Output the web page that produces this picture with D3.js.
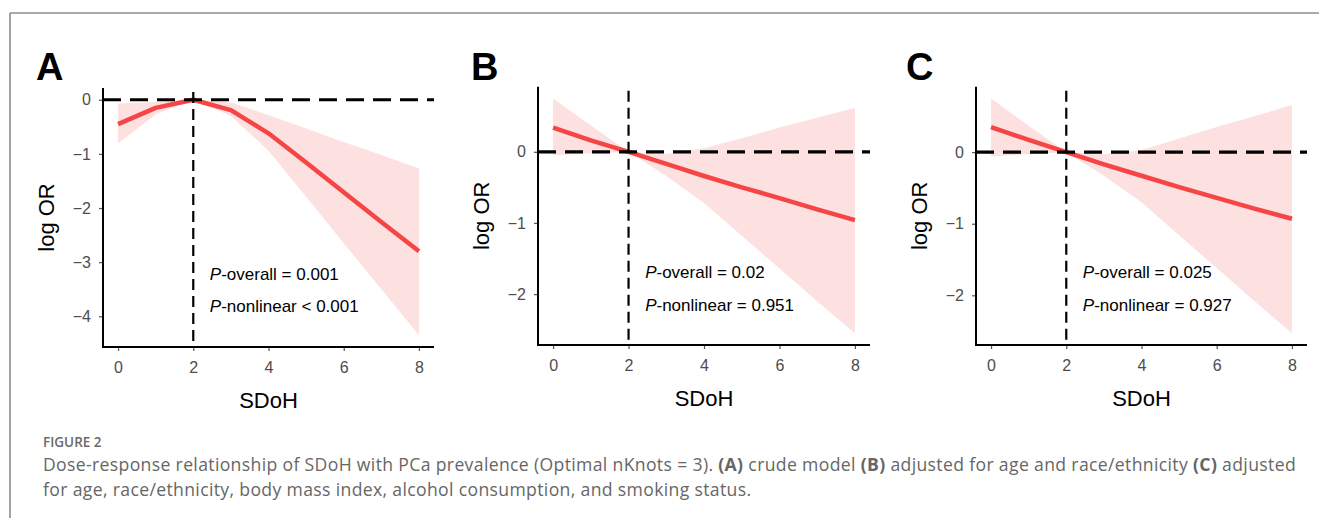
<!DOCTYPE html>
<html>
<head>
<meta charset="utf-8">
<script src="https://cdn.jsdelivr.net/npm/d3@7"></script>
<style>
  html, body { margin: 0; padding: 0; background: #fff; }
  svg { display: block; }
</style>
</head>
<body>
<svg id="chart" width="1319" height="518"></svg>
<script>
// ---------------- DATA ----------------
const sdoh = [0, 1, 2, 3, 4, 5, 6, 7, 8];

const fitA   = [-0.45, -0.15, 0, -0.19, -0.62, -1.16, -1.71, -2.26, -2.80];
const upperA = [-0.07, -0.04, 0, -0.05, -0.28, -0.53, -0.78, -1.02, -1.27];
const lowerA = [-0.81, -0.27, 0, -0.30, -0.94, -1.79, -2.65, -3.50, -4.35];

const fitB   = [0.34, 0.16, 0, -0.17, -0.34, -0.50, -0.65, -0.81, -0.96];
const upperB = [0.75, 0.37, 0, -0.03, 0.05, 0.19, 0.34, 0.48, 0.62];
const lowerB = [-0.05, -0.02, 0, -0.34, -0.72, -1.18, -1.64, -2.10, -2.55];

const fitC   = [0.35, 0.17, 0, -0.17, -0.33, -0.49, -0.64, -0.79, -0.93];
const upperC = [0.75, 0.37, 0, -0.03, 0.03, 0.19, 0.35, 0.50, 0.66];
const lowerC = [-0.06, -0.03, 0, -0.33, -0.70, -1.16, -1.62, -2.08, -2.53];

const xTicks  = [0, 2, 4, 6, 8];
const yTicksA = [0, -1, -2, -3, -4];
const yTicksB = [0, -1, -2];
const yTicksC = [0, -1, -2];

const panelLetters = ["A", "B", "C"];
const pOverall   = ["0.001", "0.02", "0.025"];
const pNonlinear = ["< 0.001", "= 0.951", "= 0.927"];

const refX = 2;   // reference SDoH value (vertical dashed line)
const refY = 0;   // log OR = 0 (horizontal dashed line)
const annotX = 2.44;

const xLabel = "SDoH";
const yLabel = "log OR";

const figureTitle = "FIGURE 2";
const captionLine1 = [
  ["Dose-response relationship of SDoH with PCa prevalence (Optimal nKnots = 3). ", false],
  ["(A)", true], [" crude model ", false],
  ["(B)", true], [" adjusted for age and race/ethnicity ", false],
  ["(C)", true], [" adjusted", false]
];
const captionLine2 = "for age, race/ethnicity, body mass index, alcohol consumption, and smoking status.";

// ---------------- LAYOUT ----------------
const svg = d3.select("#chart");
const FONT = "'Liberation Sans', Arial, Helvetica, sans-serif";
const LINE_COLOR = "#f64545";
const RIBBON_COLOR = "#fde1e1";

// frame (top + left border)
svg.append("line").attr("x1", 10).attr("y1", 13).attr("x2", 1319).attr("y2", 13)
  .attr("stroke", "#8c8c8c").attr("stroke-width", 1.6);
svg.append("line").attr("x1", 10).attr("y1", 13).attr("x2", 10).attr("y2", 518)
  .attr("stroke", "#8c8c8c").attr("stroke-width", 1.6);

const panels = [
  { fit: fitA, upper: upperA, lower: lowerA, yTicks: yTicksA, box: { l: 103, t: 88,   r: 434,  b: 347 }, letterX: 36 },
  { fit: fitB, upper: upperB, lower: lowerB, yTicks: yTicksB, box: { l: 538, t: 86.7, r: 870,  b: 345 }, letterX: 471 },
  { fit: fitC, upper: upperC, lower: lowerC, yTicks: yTicksC, box: { l: 976, t: 86.7, r: 1307, b: 345 }, letterX: 906 }
];

function expand(lo, hi) {
  const s = hi - lo;
  return [lo - 0.05 * s, hi + 0.05 * s];
}

panels.forEach((p, i) => {
  const g = svg.append("g");
  const { l, t, r, b } = p.box;

  const xDom = expand(d3.min(sdoh), d3.max(sdoh));
  const yDom = expand(d3.min(p.lower.concat([refY])), d3.max(p.upper.concat([refY])));
  const x = d3.scaleLinear().domain(xDom).range([l, r]);
  const y = d3.scaleLinear().domain(yDom).range([b, t]);

  const rows = sdoh.map((s, k) => ({ s, fit: p.fit[k], up: p.upper[k], lo: p.lower[k] }));

  // ribbon
  g.append("path").datum(rows)
    .attr("d", d3.area().x(d => x(d.s)).y0(d => y(d.lo)).y1(d => y(d.up)))
    .attr("fill", RIBBON_COLOR).attr("stroke", "none");

  // fitted line
  g.append("path").datum(rows)
    .attr("d", d3.line().x(d => x(d.s)).y(d => y(d.fit)))
    .attr("fill", "none").attr("stroke", LINE_COLOR).attr("stroke-width", 4.5)
    .attr("stroke-linejoin", "round");

  // reference lines
  g.append("line")
    .attr("x1", l).attr("x2", r).attr("y1", y(refY)).attr("y2", y(refY))
    .attr("stroke", "#000").attr("stroke-width", 3.2).attr("stroke-dasharray", "18,9");
  g.append("line")
    .attr("x1", x(refX)).attr("x2", x(refX)).attr("y1", t + 4).attr("y2", b)
    .attr("stroke", "#000").attr("stroke-width", 2.2).attr("stroke-dasharray", "11,6");

  // axes
  const xAxis = d3.axisBottom(x).tickValues(xTicks).tickSize(4).tickPadding(7).tickFormat(d3.format("d"));
  const yAxis = d3.axisLeft(y).tickValues(p.yTicks).tickSize(4).tickPadding(8)
    .tickFormat(d => d < 0 ? "\u2212" + Math.abs(d) : String(d));

  const gx = g.append("g").attr("transform", `translate(0,${b})`).call(xAxis);
  const gy = g.append("g").attr("transform", `translate(${l},0)`).call(yAxis);
  [gx, gy].forEach(ax => {
    ax.select(".domain").remove();
    ax.selectAll(".tick line").attr("stroke", "#555").attr("stroke-width", 1.2);
    ax.selectAll(".tick text").attr("fill", "#4d4d4d").style("font-family", FONT).style("font-size", "16px");
  });
  gx.selectAll(".tick text").attr("dy", "0.95em");
  // axis lines
  g.append("line").attr("x1", l).attr("x2", r).attr("y1", b).attr("y2", b)
    .attr("stroke", "#000").attr("stroke-width", 2);
  g.append("line").attr("x1", l).attr("x2", l).attr("y1", t).attr("y2", b + 1)
    .attr("stroke", "#000").attr("stroke-width", 2);

  // axis titles
  g.append("text").attr("x", (l + r) / 2).attr("y", b + 61)
    .attr("text-anchor", "middle").style("font-family", FONT).style("font-size", "22px")
    .attr("fill", "#000").text(xLabel);
  g.append("text")
    .attr("transform", `translate(${l - 57},${(t + b) / 2}) rotate(-90)`)
    .attr("text-anchor", "middle").attr("dominant-baseline", "central")
    .style("font-family", FONT).style("font-size", "22px").attr("fill", "#000").text(yLabel);

  // panel letter
  g.append("text").attr("x", p.letterX).attr("y", 80)
    .style("font-family", FONT).style("font-size", "38px").style("font-weight", "bold")
    .attr("fill", "#000").text(panelLetters[i]);

  // annotations
  const ax0 = x(annotX);
  const t1 = g.append("text").attr("x", ax0).attr("y", t + 191.5)
    .style("font-family", FONT).style("font-size", "17px").attr("fill", "#000");
  t1.append("tspan").style("font-style", "italic").text("P");
  t1.append("tspan").text("-overall = " + pOverall[i]);
  const t2 = g.append("text").attr("x", ax0).attr("y", t + 224)
    .style("font-family", FONT).style("font-size", "17px").attr("fill", "#000");
  t2.append("tspan").style("font-style", "italic").text("P");
  t2.append("tspan").text("-nonlinear " + pNonlinear[i]);
});

// ---------------- CAPTION ----------------
const CAP_FONT = "'Open Sans', 'Noto Sans', sans-serif";
svg.append("text").attr("x", 43).attr("y", 446.5)
  .style("font-family", CAP_FONT).style("font-size", "13.5px").style("font-weight", "600")
  .attr("fill", "#6a6a6a").text(figureTitle);

const c1 = svg.append("text").attr("x", 43).attr("y", 471)
  .style("font-family", CAP_FONT).style("font-size", "16px").attr("fill", "#666");
captionLine1.forEach(([txt, bold]) => {
  c1.append("tspan").style("font-weight", bold ? "700" : "400").text(txt);
});
const c2 = svg.append("text").attr("x", 43).attr("y", 495.5)
  .style("font-family", CAP_FONT).style("font-size", "16px").attr("fill", "#666")
  .text(captionLine2);

// fit caption to the reference line width (font size capped, rest via letter spacing)
const targetW = 1253;
const w1 = c1.node().getComputedTextLength();
const fs = Math.min(17.6, 16 * targetW / w1);
c1.style("font-size", fs + "px");
c2.style("font-size", fs + "px");
const w2 = c1.node().getComputedTextLength();
const nChars = captionLine1.map(d => d[0]).join("").length;
const ls = Math.max(0, (targetW - w2) / nChars);
c1.style("letter-spacing", ls + "px");
c2.style("letter-spacing", ls + "px");
</script>
</body>
</html>
